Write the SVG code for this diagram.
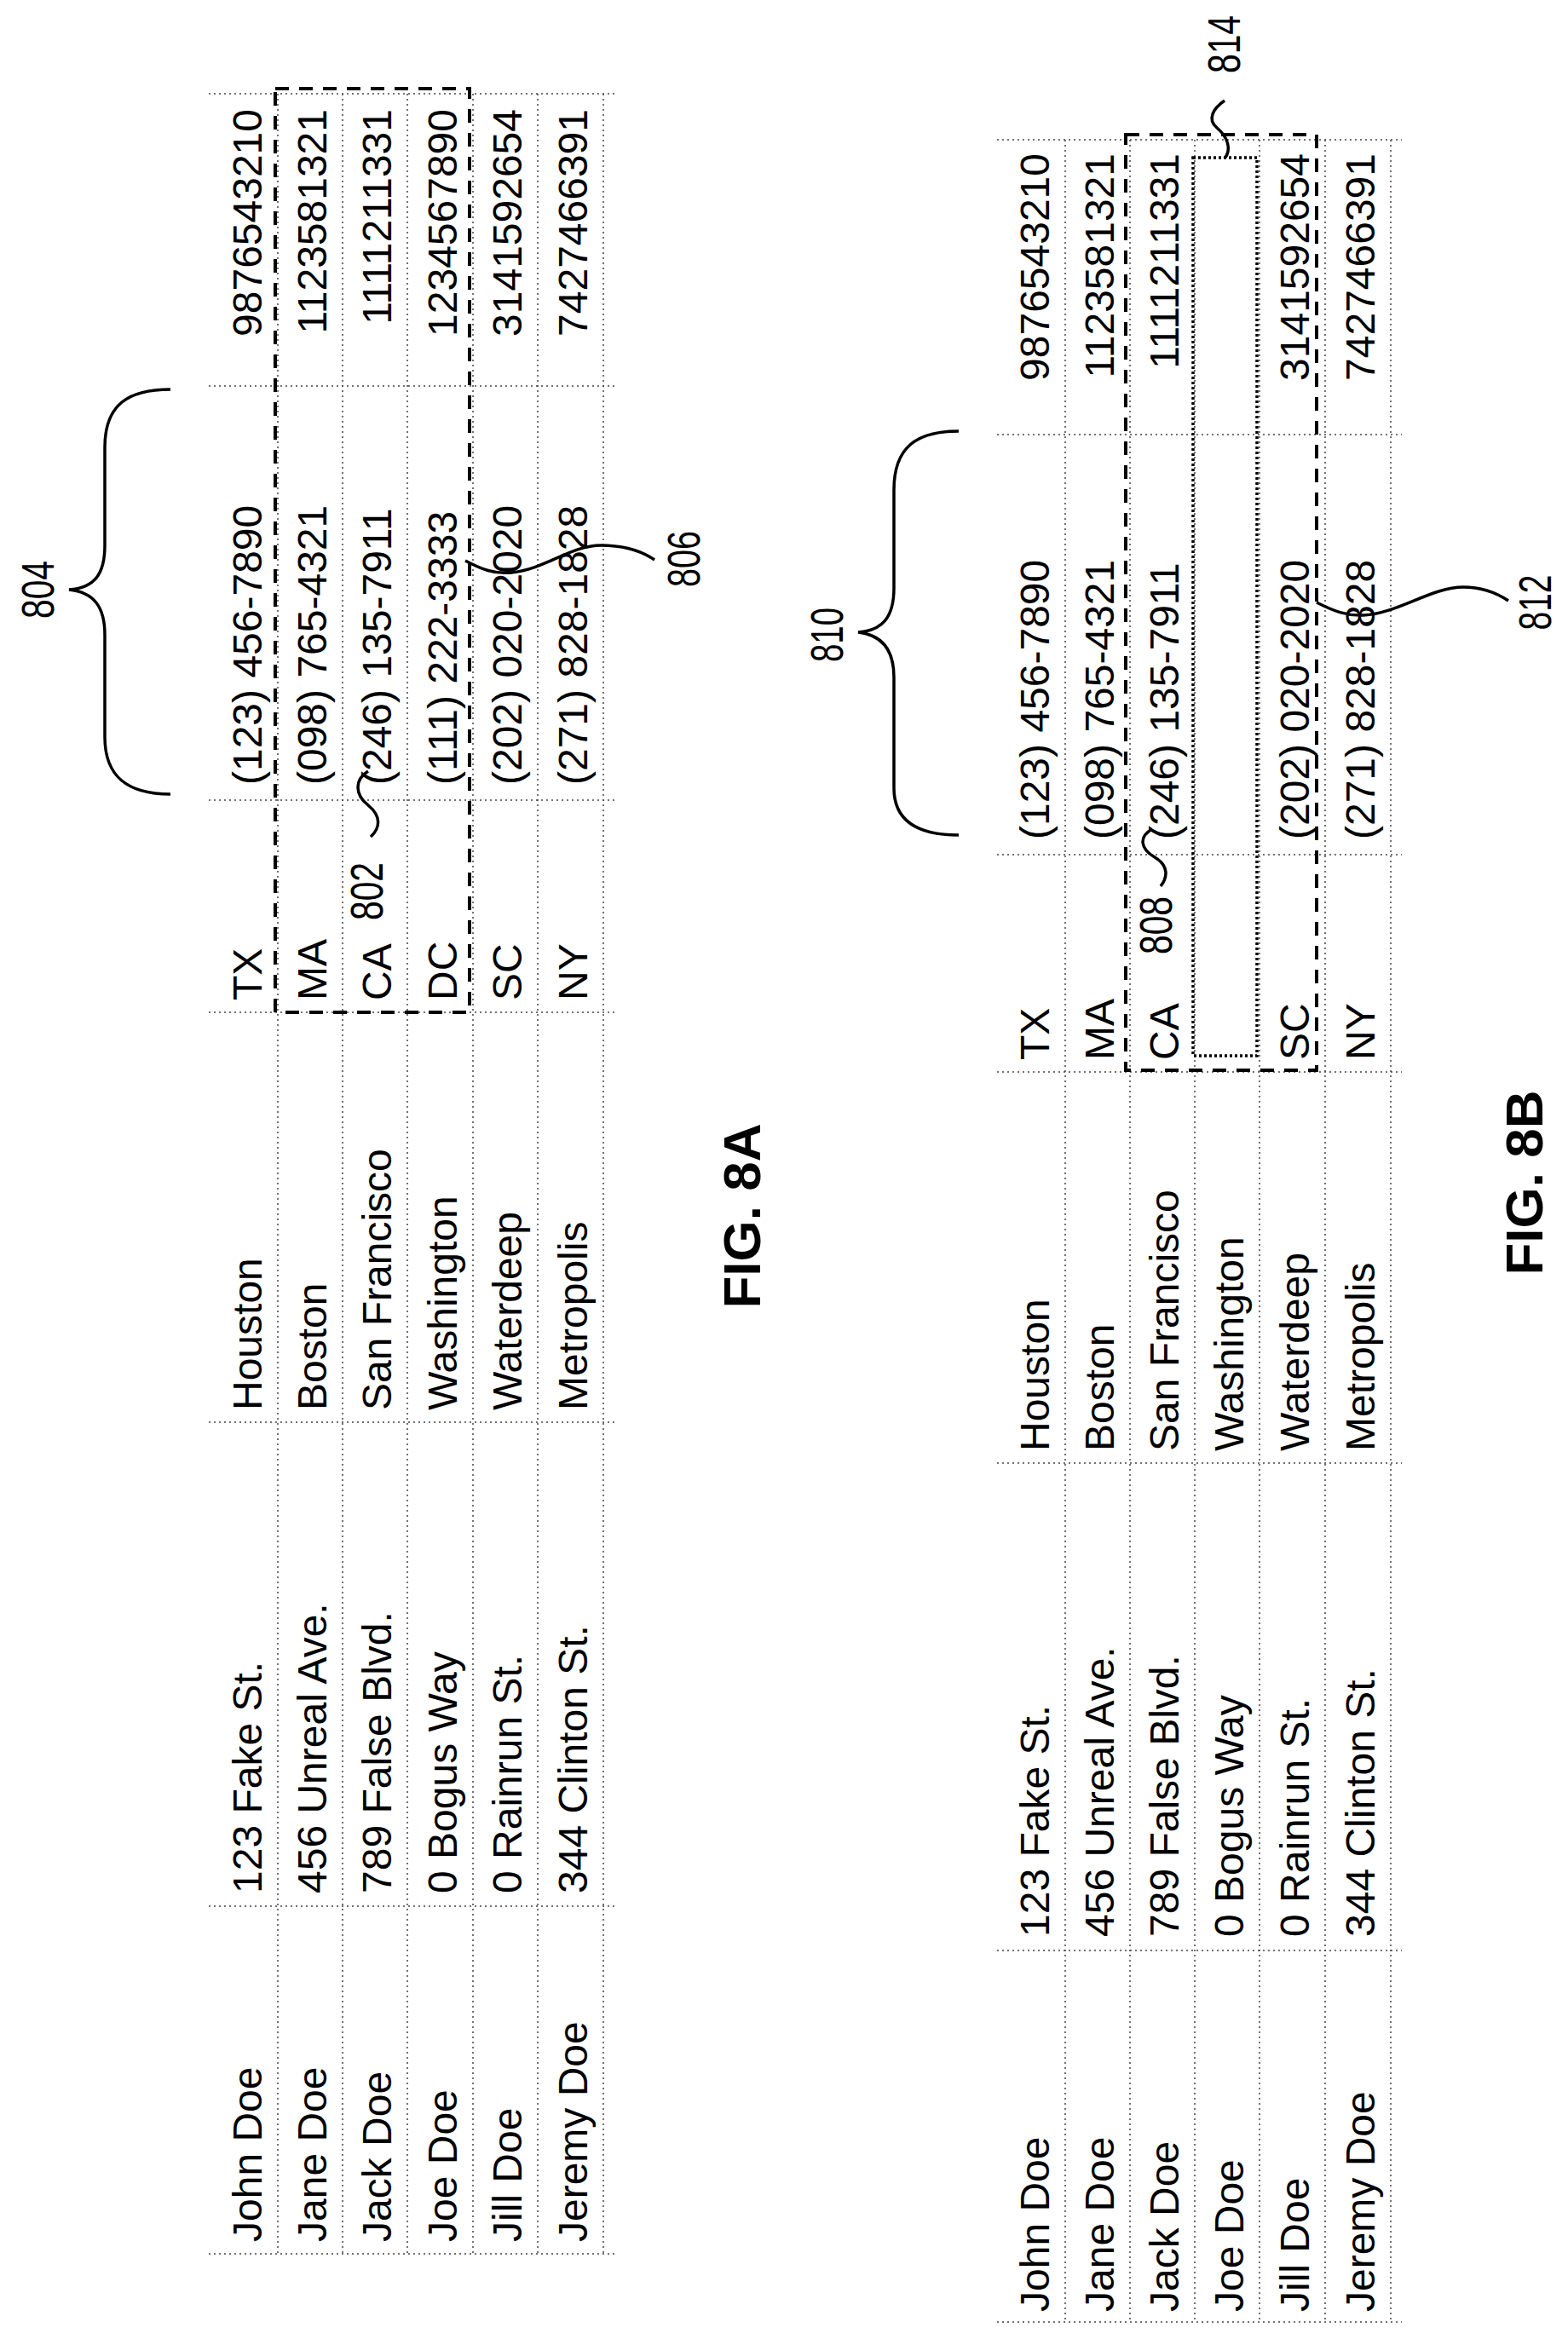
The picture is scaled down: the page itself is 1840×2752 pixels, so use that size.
<svg xmlns="http://www.w3.org/2000/svg" width="1840" height="2752" viewBox="0 0 1840 2752">
<style>
.g{stroke:#444;stroke-width:1.5;stroke-dasharray:2 4;fill:none}
.t{font-family:"Liberation Sans",Arial,sans-serif;font-size:48px;fill:#000}
.n{text-anchor:end}
.lab{font-family:"Liberation Sans",Arial,sans-serif;font-size:54px;fill:#000;text-anchor:middle}
.fig{font-family:"Liberation Sans",Arial,sans-serif;font-size:62px;font-weight:bold;fill:#000;text-anchor:middle}
.dash{fill:none;stroke:#000;stroke-width:4;stroke-dasharray:16 12}
.dot{fill:none;stroke:#000;stroke-width:3.5;stroke-dasharray:3 3}
.ld{fill:none;stroke:#000;stroke-width:3.5}
</style>
<rect width="1840" height="2752" fill="#fff"/>
<g id="fig8A">
<g id="grid8A">
<path class="g" d="M245,110H725M245,453H725M245,939H725M245,1188H725M245,1669H725M245,2237H725M245,2645H725"/>
<path class="g" d="M326,110V2645M402,110V2645M478,110V2645M555,110V2645M631,110V2645M708,110V2645"/>
</g>
<g id="cells8A">
<text class="t n" transform="translate(307,128) rotate(-90)">9876543210</text>
<text class="t n" transform="translate(383,128) rotate(-90)">1123581321</text>
<text class="t n" transform="translate(459,128) rotate(-90)">1111211331</text>
<text class="t n" transform="translate(536,128) rotate(-90)">1234567890</text>
<text class="t n" transform="translate(612,128) rotate(-90)">3141592654</text>
<text class="t n" transform="translate(689,128) rotate(-90)">7427466391</text>
<text class="t" transform="translate(307,921) rotate(-90)">(123) 456-7890</text>
<text class="t" transform="translate(383,921) rotate(-90)">(098) 765-4321</text>
<text class="t" transform="translate(459,921) rotate(-90)">(246) 135-7911</text>
<text class="t" transform="translate(536,921) rotate(-90)">(111) 222-3333</text>
<text class="t" transform="translate(612,921) rotate(-90)">(202) 020-2020</text>
<text class="t" transform="translate(689,921) rotate(-90)">(271) 828-1828</text>
<text class="t" transform="translate(307,1174) rotate(-90)">TX</text>
<text class="t" transform="translate(383,1174) rotate(-90)">MA</text>
<text class="t" transform="translate(459,1174) rotate(-90)">CA</text>
<text class="t" transform="translate(536,1174) rotate(-90)">DC</text>
<text class="t" transform="translate(612,1174) rotate(-90)">SC</text>
<text class="t" transform="translate(689,1174) rotate(-90)">NY</text>
<text class="t" transform="translate(307,1655) rotate(-90)">Houston</text>
<text class="t" transform="translate(383,1655) rotate(-90)">Boston</text>
<text class="t" transform="translate(459,1655) rotate(-90)">San Francisco</text>
<text class="t" transform="translate(536,1655) rotate(-90)">Washington</text>
<text class="t" transform="translate(612,1655) rotate(-90)">Waterdeep</text>
<text class="t" transform="translate(689,1655) rotate(-90)">Metropolis</text>
<text class="t" transform="translate(307,2222) rotate(-90)">123 Fake St.</text>
<text class="t" transform="translate(383,2222) rotate(-90)">456 Unreal Ave.</text>
<text class="t" transform="translate(459,2222) rotate(-90)">789 False Blvd.</text>
<text class="t" transform="translate(536,2222) rotate(-90)">0 Bogus Way</text>
<text class="t" transform="translate(612,2222) rotate(-90)">0 Rainrun St.</text>
<text class="t" transform="translate(689,2222) rotate(-90)">344 Clinton St.</text>
<text class="t" transform="translate(307,2631) rotate(-90)">John Doe</text>
<text class="t" transform="translate(383,2631) rotate(-90)">Jane Doe</text>
<text class="t" transform="translate(459,2631) rotate(-90)">Jack Doe</text>
<text class="t" transform="translate(536,2631) rotate(-90)">Joe Doe</text>
<text class="t" transform="translate(612,2631) rotate(-90)">Jill Doe</text>
<text class="t" transform="translate(689,2631) rotate(-90)">Jeremy Doe</text>
</g>
<g id="n802"><rect class="dash" x="323" y="104" width="228" height="1084"/>
<text class="lab" transform="translate(449,1046) rotate(-90)" textLength="68" lengthAdjust="spacingAndGlyphs">802</text></g>
<g id="n804"><path class="ld" d="M200,457C150,457 123,475 123,525L123,640C123,675 110,690 81,692C110,695 123,712 123,745L123,865C123,912 150,932 200,932"/>
<text class="lab" transform="translate(63,692) rotate(-90)" textLength="68" lengthAdjust="spacingAndGlyphs">804</text></g>
<g id="n806"><text class="lab" transform="translate(821,656) rotate(-90)" textLength="66" lengthAdjust="spacingAndGlyphs">806</text></g>
<text class="fig" transform="translate(892,1427) rotate(-90)">FIG. 8A</text>
</g>
<g id="fig8B">
<g id="grid8B">
<path class="g" d="M1170,164H1645M1170,510H1645M1170,1003H1645M1170,1258H1645M1170,1717H1645M1170,2289H1645M1170,2725H1645"/>
<path class="g" d="M1250,164V2725M1326,164V2725M1402,164V2725M1478,164V2725M1555,164V2725M1632,164V2725"/>
</g>
<g id="cells8B">
<text class="t n" transform="translate(1231,180) rotate(-90)">9876543210</text>
<text class="t n" transform="translate(1307,180) rotate(-90)">1123581321</text>
<text class="t n" transform="translate(1383,180) rotate(-90)">1111211331</text>
<text class="t n" transform="translate(1536,180) rotate(-90)">3141592654</text>
<text class="t n" transform="translate(1613,180) rotate(-90)">7427466391</text>
<text class="t" transform="translate(1231,985) rotate(-90)">(123) 456-7890</text>
<text class="t" transform="translate(1307,985) rotate(-90)">(098) 765-4321</text>
<text class="t" transform="translate(1383,985) rotate(-90)">(246) 135-7911</text>
<text class="t" transform="translate(1536,985) rotate(-90)">(202) 020-2020</text>
<text class="t" transform="translate(1613,985) rotate(-90)">(271) 828-1828</text>
<text class="t" transform="translate(1231,1244) rotate(-90)">TX</text>
<text class="t" transform="translate(1307,1244) rotate(-90)">MA</text>
<text class="t" transform="translate(1383,1244) rotate(-90)">CA</text>
<text class="t" transform="translate(1536,1244) rotate(-90)">SC</text>
<text class="t" transform="translate(1613,1244) rotate(-90)">NY</text>
<text class="t" transform="translate(1231,1703) rotate(-90)">Houston</text>
<text class="t" transform="translate(1307,1703) rotate(-90)">Boston</text>
<text class="t" transform="translate(1383,1703) rotate(-90)">San Francisco</text>
<text class="t" transform="translate(1459,1703) rotate(-90)">Washington</text>
<text class="t" transform="translate(1536,1703) rotate(-90)">Waterdeep</text>
<text class="t" transform="translate(1613,1703) rotate(-90)">Metropolis</text>
<text class="t" transform="translate(1231,2273) rotate(-90)">123 Fake St.</text>
<text class="t" transform="translate(1307,2273) rotate(-90)">456 Unreal Ave.</text>
<text class="t" transform="translate(1383,2273) rotate(-90)">789 False Blvd.</text>
<text class="t" transform="translate(1459,2273) rotate(-90)">0 Bogus Way</text>
<text class="t" transform="translate(1536,2273) rotate(-90)">0 Rainrun St.</text>
<text class="t" transform="translate(1613,2273) rotate(-90)">344 Clinton St.</text>
<text class="t" transform="translate(1231,2713) rotate(-90)">John Doe</text>
<text class="t" transform="translate(1307,2713) rotate(-90)">Jane Doe</text>
<text class="t" transform="translate(1383,2713) rotate(-90)">Jack Doe</text>
<text class="t" transform="translate(1459,2713) rotate(-90)">Joe Doe</text>
<text class="t" transform="translate(1536,2713) rotate(-90)">Jill Doe</text>
<text class="t" transform="translate(1613,2713) rotate(-90)">Jeremy Doe</text>
</g>
<g id="n808"><rect class="dash" x="1321" y="158" width="224" height="1098"/>
<text class="lab" transform="translate(1375,1086) rotate(-90)" textLength="68" lengthAdjust="spacingAndGlyphs">808</text></g>
<g id="n814"><rect class="dot" x="1400" y="185" width="75" height="1054"/>
<text class="lab" transform="translate(1455,52) rotate(-90)" textLength="68" lengthAdjust="spacingAndGlyphs">814</text></g>
<g id="n810"><path class="ld" d="M1125,506C1075,506 1049,525 1049,575L1049,690C1049,725 1035,740 1007,742C1035,745 1049,762 1049,795L1049,925C1049,962 1075,980 1125,980"/>
<text class="lab" transform="translate(989,745) rotate(-90)" textLength="64" lengthAdjust="spacingAndGlyphs">810</text></g>
<g id="n812"><text class="lab" transform="translate(1820,707) rotate(-90)" textLength="65" lengthAdjust="spacingAndGlyphs">812</text></g>
<text class="fig" transform="translate(1810,1388) rotate(-90)">FIG. 8B</text>
</g>
<g id="connectors">
<path class="ld" d="M546,658C565,668 580,674 600,672C640,668 670,640 705,640C735,640 755,648 768,657"/>
<path class="ld" d="M432,905C416,915 416,932 432,945C448,958 446,972 435,982"/>
<path class="ld" d="M1545,707C1565,717 1580,723 1600,722C1640,720 1680,689 1717,689C1740,689 1758,697 1770,705"/>
<path class="ld" d="M1352,973C1336,982 1338,996 1355,1006C1372,1016 1370,1030 1362,1040"/>
<path class="ld" d="M1437,186C1446,175 1440,160 1428,150C1416,140 1424,127 1437,118"/>
</g>
</svg>
